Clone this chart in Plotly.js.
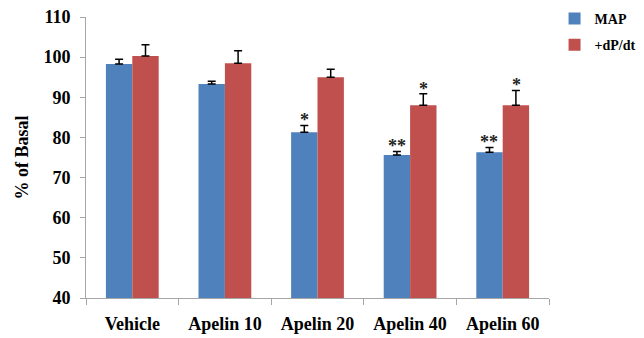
<!DOCTYPE html>
<html><head><meta charset="utf-8">
<script src="https://cdn.plot.ly/plotly-3.0.1.min.js"></script>
<style>body{margin:0;background:#fff}#chart{width:644px;height:338px}</style>
</head><body><div id="chart"></div>
<script>
const categories = ["Vehicle", "Apelin 10", "Apelin 20", "Apelin 40", "Apelin 60"];
const mapValues = [98.3, 93.3, 81.3, 75.6, 76.3];
const mapErrors = [1.2, 0.7, 1.7, 0.9, 1.2];
const dpdtValues = [100.3, 98.5, 95.0, 88.0, 88.0];
const dpdtErrors = [2.8, 3.1, 2.0, 2.9, 3.7];
const mapSig = ["", "", "*", "**", "**"];
const dpdtSig = ["", "", "", "*", "*"];
const yTicks = [40, 50, 60, 70, 80, 90, 100, 110];

const font = "Liberation Serif, Times New Roman, serif";
const traces = [
  {type: "bar", name: "MAP", legendgroup: "a", x: categories, y: mapValues, marker: {color: "#4F81BD"},
   error_y: {type: "data", symmetric: false, array: mapErrors, arrayminus: mapErrors.map(() => 0), color: "#000", thickness: 1.5, width: 4}},
  {type: "bar", name: "+dP/dt", legendgroup: "b", x: categories, y: dpdtValues, marker: {color: "#C0504D"},
   error_y: {type: "data", symmetric: false, array: dpdtErrors, arrayminus: dpdtErrors.map(() => 0), color: "#000", thickness: 1.5, width: 4}}
];
const annotations = [];
categories.forEach((c, i) => {
  if (mapSig[i]) annotations.push({x: c, y: mapValues[i] + mapErrors[i], yshift: 5, xshift: -13.5, text: mapSig[i], showarrow: false, font: {family: font, size: 18, color: "#222", weight: "bold"}});
  if (dpdtSig[i]) annotations.push({x: c, y: dpdtValues[i] + dpdtErrors[i], yshift: 5, xshift: 13.5, text: dpdtSig[i], showarrow: false, font: {family: font, size: 18, color: "#222", weight: "bold"}});
});
const layout = {
  width: 644, height: 338,
  margin: {l: 86, r: 95, t: 17, b: 40, autoexpand: false},
  paper_bgcolor: "#fff", plot_bgcolor: "#fff",
  barmode: "group", bargap: 0.43, bargroupgap: 0,
  showlegend: true,
  legend: {x: 1.012, y: 1.05, xanchor: "left", yanchor: "top", traceorder: "grouped", tracegroupgap: 5,
    font: {family: font, size: 14, color: "#000", weight: "bold"}, itemwidth: 30},
  xaxis: {type: "category", showline: true, linecolor: "#a6a6a6", linewidth: 1, ticks: "outside", tickson: "boundaries", ticklen: 6, tickcolor: "#a6a6a6", showgrid: false,
    tickfont: {family: font, size: 18, color: "#000", weight: "bold"}, ticklabelstandoff: 9},
  yaxis: {range: [40, 110], tickvals: yTicks, showline: true, linecolor: "#a6a6a6", linewidth: 1, ticks: "outside", ticklen: 5, tickcolor: "#a6a6a6", showgrid: false, zeroline: false,
    tickfont: {family: font, size: 18, color: "#000", weight: "bold"}, ticklabelstandoff: 6,
    title: {text: "% of Basal", font: {family: font, size: 18, color: "#000", weight: "bold"}, standoff: 10}},
  annotations: annotations
};
Plotly.newPlot("chart", traces, layout, {displayModeBar: false, staticPlot: true});
</script></body></html>
